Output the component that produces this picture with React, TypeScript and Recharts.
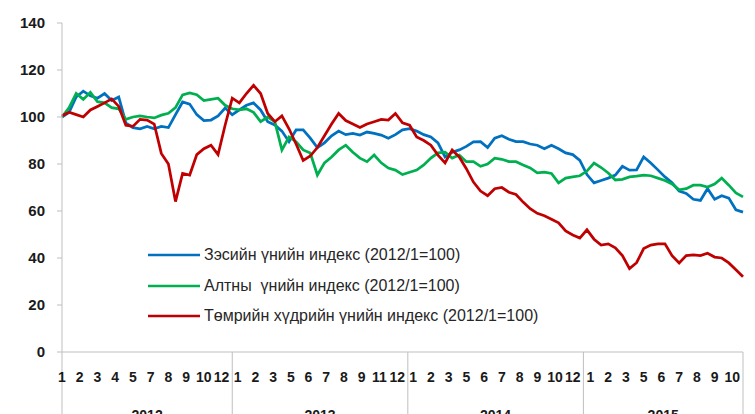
import React from 'react';
import { LineChart, Line, XAxis, YAxis, ReferenceLine, Legend } from 'recharts';

// one value every 2 weeks, Jan 2012 .. Oct 2015 (index 2012/1 = 100)
const copper = [
  100, 102, 108.5, 111, 109, 108, 110, 107, 108.5, 97.5,
  95.5, 95, 96, 95, 96, 95.5, 101, 106.4, 105.5, 101,
  98.5, 98.7, 100.5, 103.8, 101, 103, 105, 106, 103, 98,
  96.6, 94, 89.5, 94.5, 94.5, 91, 87, 89, 92, 94,
  92.5, 93, 92.3, 93.6, 93, 92.3, 91, 92.5, 94.5, 95,
  94, 92.5, 91.5, 89, 83, 85, 86, 87.5, 89.4, 89.5,
  87, 91, 92, 90.5, 89.5, 89.5, 88.5, 88, 86.5, 88,
  86.5, 84.7, 84, 81.5, 75.5, 72, 73, 74, 75.3, 79,
  77.4, 77.5, 83, 80.4, 77.5, 74.5, 72, 68.5, 67.5, 65,
  64.5, 69.5, 65, 66.5, 65.5, 60.5, 59.5,
];
const gold = [
  100, 104, 110, 107.5, 110.5, 106.5, 106, 104, 103.5, 99,
  100, 100.5, 100, 99.6, 100.8, 101.6, 104, 109.4, 110.2, 109.5,
  107, 107.5, 108, 105, 103.5, 103, 103.5, 102, 98, 100,
  98, 86, 91.5, 89.5, 86, 84.7, 75.3, 80.5, 83, 86,
  88, 85, 82.5, 81, 83.8, 80.5, 78.3, 77.4, 75.5, 76.5,
  77.4, 79.6, 82.5, 84.7, 85, 82.5, 83.8, 81, 81, 79,
  80, 82.5, 82, 81, 81, 79.6, 78.3, 76.2, 76.5, 76,
  72, 74, 74.5, 75, 77, 80.4, 78.5, 76.2, 73.2, 73.5,
  74.5, 74.8, 75.3, 75, 74, 73, 71.5, 69, 69.5, 71,
  71, 70.2, 71.5, 74, 71, 67.7, 66,
];
const ironOre = [
  100.5, 102, 101, 100, 103, 104.5, 106, 107.7, 104.5, 96.5,
  96, 99, 98.7, 97, 84.5, 80, 64, 76, 75.3, 84,
  86.5, 88, 84, 96.6, 108, 106, 110, 113.5, 110, 101.5,
  98, 100.5, 95, 88.5, 81.5, 83.4, 87, 92, 97, 101.5,
  98.5, 97, 95.5, 97, 98, 99, 98.7, 101.5, 97.5, 96.5,
  91.5, 90, 88, 83.8, 80.5, 86, 83, 78, 72.3, 68.5,
  66.5, 69.5, 70, 68, 67, 63.8, 61, 59, 58, 56.5,
  55, 51.5, 49.8, 48.5, 52, 48, 45.5, 46, 44.3, 41,
  35.5, 38, 44, 45.5, 46, 46, 41, 37.9, 41, 41.3,
  41, 42, 40.4, 40, 37.9, 35, 32,
];

const seriesKeys = ['copper', 'gold', 'iron'];
const seriesNames = [
  'Зэсийн үнийн индекс (2012/1=100)',
  'Алтны  үнийн индекс (2012/1=100)',
  'Төмрийн хүдрийн үнийн индекс (2012/1=100)',
];
const seriesColors = ['#0070C0', '#00B050', '#C00000'];

const years = ['2012', '2013', '2014', '2015'];
const monthLabels = [
  ['1', '2', '3', '4', '5', '7', '8', '9', '10', '12'],
  ['1', '2', '3', '5', '6', '7', '8', '9', '11', '12'],
  ['1', '2', '3', '5', '6', '7', '8', '9', '10', '12'],
  ['1', '2', '3', '5', '6', '7', '8', '9', '10'],
];
const yTicks = [0, 20, 40, 60, 80, 100, 120, 140];

// week positions on the x axis
const lastWeek = 192;
const firstLabelWeek = [0, 49.5, 99, 149];
const yearEdges = [0, 48, 97.5, 147, lastWeek];

const data = copper.map((v, i) => ({
  week: i * 2,
  copper: v,
  gold: gold[i],
  iron: ironOre[i],
}));

const monthLabelAt = new Map<number, string>();
monthLabels.forEach((labels, yi) => {
  labels.forEach((m, i) => monthLabelAt.set(firstLabelWeek[yi] + 5 * i, m));
});
const monthTicks = Array.from(monthLabelAt.keys());

const yearLabelAt = new Map<number, string>();
years.forEach((y, i) => yearLabelAt.set((yearEdges[i] + yearEdges[i + 1]) / 2, y));
const yearTicks = Array.from(yearLabelAt.keys());

const axisGray = '#BFBFBF';
const narrow = '"Liberation Sans Narrow", "Arial Narrow", "Liberation Sans", Arial, sans-serif';

const MonthTick = ({ x, y, payload }: any) => (
  <text x={x} y={y + 28} textAnchor="middle" fontFamily={narrow} fontSize={14}
    fontWeight="bold" fill="#1a1a1a">
    {monthLabelAt.get(payload.value)}
  </text>
);

const YearTick = ({ x, y, payload }: any) => (
  <text x={x} y={y + 36} textAnchor="middle" fontFamily={narrow} fontSize={14}
    fontWeight="bold" fill="#1a1a1a">
    {yearLabelAt.get(payload.value)}
  </text>
);

const renderLegend = () => (
  <div style={{ fontFamily: narrow, fontSize: 16, color: '#262626' }}>
    {seriesNames.map((name, i) => (
      <div key={name} style={{ display: 'flex', alignItems: 'center', height: 30.5, whiteSpace: 'pre' }}>
        <svg width={56} height={4} style={{ display: 'block' }}>
          <line x1={0} y1={2} x2={52} y2={2} stroke={seriesColors[i]} strokeWidth={2.5} />
        </svg>
        <span>{name}</span>
      </div>
    ))}
  </div>
);

export default function App() {
  return (
    <div style={{ position: 'absolute', left: 0, top: 0, width: 755, height: 414, background: '#fff' }}>
      <LineChart width={755} height={414} data={data} margin={{ top: 23, right: 12, bottom: 0, left: 0 }}>
        <XAxis xAxisId="m" dataKey="week" type="number" domain={[0, lastWeek]} ticks={monthTicks}
          interval={0} height={30} tickSize={0} tickLine={false} stroke={axisGray} tick={<MonthTick />} />
        <XAxis xAxisId="y" dataKey="week" type="number" domain={[0, lastWeek]} ticks={yearTicks}
          interval={0} height={32} tickSize={0} tickLine={false} axisLine={false} tick={<YearTick />} />
        <YAxis domain={[0, 140]} ticks={yTicks} interval={0} width={62} tickSize={5} tickMargin={12}
          stroke={axisGray} tick={{ fontFamily: '"Liberation Sans", Arial, sans-serif', fontSize: 15, fontWeight: 'bold', fill: '#1a1a1a' }} />
        {yearEdges.map((w) => (
          <ReferenceLine key={w} xAxisId="m" ifOverflow="visible" stroke={axisGray}
            segment={[{ x: w, y: 0 }, { x: w, y: -28 }]} />
        ))}
        <Legend layout="vertical" align="center" verticalAlign="middle" content={renderLegend}
          wrapperStyle={{ left: 148, top: 240, width: 420 }} />
        {seriesKeys.map((key, i) => (
          <Line key={key} xAxisId="m" type="linear" dataKey={key} name={seriesNames[i]}
            stroke={seriesColors[i]} strokeWidth={2.75} dot={false} isAnimationActive={false} />
        ))}
      </LineChart>
    </div>
  );
}
